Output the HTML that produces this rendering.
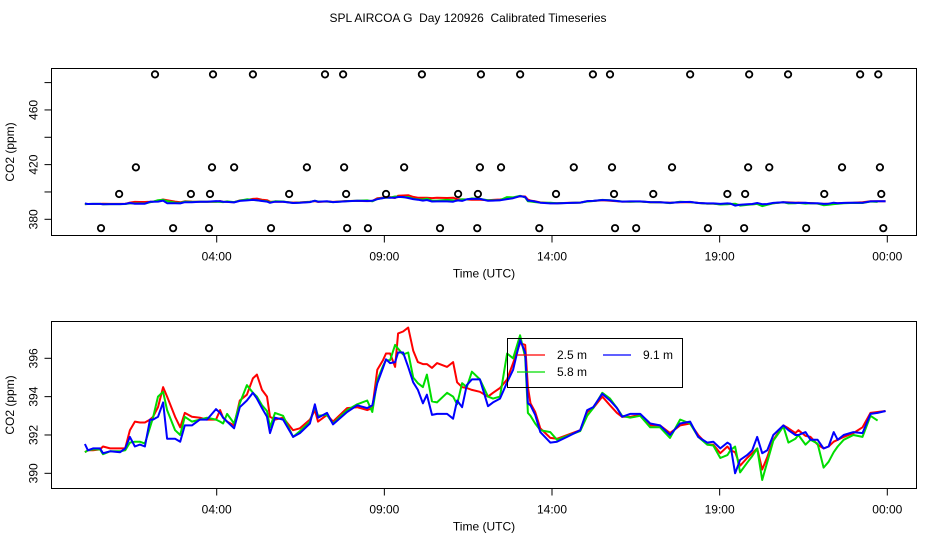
<!DOCTYPE html>
<html><head><meta charset="utf-8">
<style>
html,body{margin:0;padding:0;background:#fff;}
svg{display:block;font-family:"Liberation Sans",Arial,sans-serif;}
</style></head>
<body>
<svg id="chart" width="936" height="540" viewBox="0 0 936 540">
<text x="468" y="22" text-anchor="middle" font-size="12" style="white-space:pre">SPL AIRCOA G  Day 120926  Calibrated Timeseries</text>
<g id="topPanel"></g>
<g id="botPanel"></g>
</svg>
<script>
const hours = [0.07,0.16,0.31,0.52,0.61,0.82,1.12,1.27,1.41,1.56,1.71,1.86,2.01,2.10,2.25,2.40,2.52,2.76,2.91,3.05,3.26,3.50,3.71,3.98,4.10,4.19,4.31,4.52,4.69,4.90,5.08,5.20,5.35,5.50,5.59,5.74,5.98,6.28,6.48,6.78,6.93,7.02,7.29,7.47,7.89,8.19,8.49,8.64,8.79,8.96,9.05,9.17,9.32,9.41,9.56,9.71,9.86,10.00,10.15,10.27,10.42,10.57,10.87,11.05,11.17,11.32,11.46,11.61,11.85,12.09,12.24,12.45,12.66,12.84,13.05,13.20,13.28,13.36,13.50,13.65,13.95,14.15,14.45,14.84,15.05,15.23,15.50,15.73,15.94,16.09,16.33,16.63,16.93,17.22,17.52,17.82,18.12,18.36,18.63,18.81,19.02,19.23,19.32,19.46,19.61,19.82,19.97,20.12,20.27,20.42,20.60,20.90,21.05,21.26,21.35,21.56,21.71,21.92,22.10,22.25,22.40,22.52,22.70,22.99,23.26,23.50,23.71,23.95];
const blue = [391.53,391.2,391.3,391.3,391.05,391.15,391.1,391.3,391.9,391.4,391.5,391.4,392.8,392.8,392.95,393.7,391.8,391.8,391.65,392.5,392.5,392.8,392.8,393.35,393.15,392.9,392.7,392.35,393.45,393.8,394.2,393.9,393.4,392.95,392.1,392.9,392.8,391.9,392.1,392.6,393.6,392.9,393.15,392.55,393.2,393.55,393.4,393.55,394.7,395.5,395.95,395.75,395.8,396.3,396.3,395.55,394.75,394.35,393.65,394.1,393.05,393.1,393.1,392.85,393.8,393.45,394.6,394.9,394.9,393.5,393.7,393.9,394.75,395.4,396.95,396.3,393.65,393.55,393.05,392.15,391.6,391.65,391.9,392.25,393.3,393.45,394.15,393.8,393.4,392.95,393.1,393.1,392.6,392.5,392.0,392.6,392.7,391.9,391.6,391.65,391.3,391.6,391.5,390.0,390.7,390.95,391.2,391.9,391.05,391.2,392.0,392.5,392.25,392.0,392.0,392.15,391.75,391.75,391.3,391.4,392.15,391.75,392.0,392.15,392.1,393.1,393.15,393.25];
const red = [391.1,391.2,391.2,391.25,391.4,391.3,391.3,391.3,392.25,392.7,392.65,392.65,392.8,392.95,393.45,394.5,394.0,392.95,392.4,393.15,392.95,392.9,392.8,392.8,393.3,392.9,392.7,392.5,393.8,394.1,394.95,395.15,394.35,394.0,392.95,392.8,392.9,392.25,392.35,392.8,393.3,392.7,393.05,392.7,393.4,393.45,393.3,393.4,395.4,395.9,396.25,396.25,395.55,397.3,397.4,397.6,396.4,395.8,395.7,395.7,395.5,395.75,395.55,395.8,394.75,394.5,394.45,394.35,394.25,394.0,394.2,394.45,394.9,395.75,396.8,396.7,394.5,393.65,393.2,392.35,391.85,391.8,392.0,392.25,393.2,393.4,394.0,393.55,393.15,392.95,392.95,393.05,392.5,392.5,392.1,392.5,392.6,392.0,391.5,391.5,391.05,391.4,391.2,391.1,390.4,390.8,391.05,391.3,390.2,390.85,391.75,392.5,392.35,392.1,392.25,391.95,391.9,391.5,391.3,391.4,391.65,391.75,391.9,392.1,392.4,393.15,393.2,393.25];
const green = [391.1,391.2,391.25,391.25,391.0,391.15,391.15,391.2,391.6,391.65,391.65,391.55,392.4,392.9,394.0,394.25,393.3,392.25,392.0,392.95,392.7,392.8,392.9,392.8,392.7,392.6,393.1,392.6,393.65,394.6,394.2,394.0,393.55,393.25,392.4,393.15,393.0,391.9,392.2,392.7,393.5,393.0,393.05,392.6,393.3,393.6,393.8,393.2,394.85,395.6,395.9,395.9,396.7,396.5,396.2,396.3,395.0,394.7,394.5,395.15,393.75,393.7,394.2,394.0,393.6,394.7,394.5,395.3,394.9,394.0,393.9,394.0,396.25,396.0,397.2,396.05,393.15,393.0,392.6,392.25,392.15,391.75,391.95,392.2,393.0,393.4,394.2,393.9,393.4,393.0,392.9,393.0,392.4,392.4,391.85,392.8,392.6,391.9,391.5,391.45,390.8,390.95,391.2,391.4,390.05,390.55,390.9,391.3,389.65,390.6,391.7,392.45,391.6,391.8,392.0,391.5,391.75,391.55,390.3,390.6,391.1,391.4,391.75,392.0,391.9,393.0,392.75,null];
const flagHours = [2.16,3.89,5.08,7.23,7.77,10.12,11.88,13.05,15.22,15.73,18.12,19.88,21.04,23.19,23.73,
 1.59,3.86,4.52,6.69,7.80,9.59,11.85,12.48,14.65,15.79,17.58,19.85,20.48,22.65,23.78,
 1.09,3.23,3.80,6.16,7.86,9.05,11.20,11.79,14.12,15.85,17.02,19.23,19.76,22.12,23.82,
 0.55,2.70,3.77,5.62,7.89,8.51,10.66,11.77,13.62,15.88,16.51,18.65,19.73,21.58,23.88];
const flagValues = [486,486,486,486,486,486,486,486,486,486,486,486,486,486,486,
 418,418,418,418,418,418,418,418,418,418,418,418,418,418,418,
 398.5,398.5,398.5,398.5,398.5,398.5,398.5,398.5,398.5,398.5,398.5,398.5,398.5,398.5,398.5,
 373.5,373.5,373.5,373.5,373.5,373.5,373.5,373.5,373.5,373.5,373.5,373.5,373.5,373.5,373.5];
const xTickHours = [4,9,14,19,24];
const xTickLabels = ["04:00","09:00","14:00","19:00","00:00"];
const topYTicks = [380,400,420,440,460,480];
const topYLabels = ["380","","420","","460",""];
const botYTicks = [390,392,394,396];
const botYLabels = ["390","392","394","396"];

const NS="http://www.w3.org/2000/svg";
function mk(parent,tag,attrs){const e=document.createElementNS(NS,tag);for(const k in attrs)e.setAttribute(k,attrs[k]);parent.appendChild(e);return e;}
const xScale = h => 216.7 + (h-4)*33.53;
const GREEN = '#00dd00';

function panel(g, box, yScale, yTicks, yLabels, withFlags){
  const r=mk(g,'rect',{x:box.x,y:box.y,width:box.w,height:box.h,fill:'none',stroke:'#000','stroke-width':1});
  
  
  const yb=box.y+box.h;
  mk(g,'line',{x1:xScale(xTickHours[0]),x2:xScale(xTickHours[xTickHours.length-1]),y1:yb,y2:yb,stroke:'#000'});
  xTickHours.forEach((h,i)=>{
    const x=xScale(h);
    mk(g,'line',{x1:x,x2:x,y1:yb,y2:yb+7,stroke:'#000'});
    const t=mk(g,'text',{x:x,y:yb+25,'text-anchor':'middle','font-size':12});
    t.textContent=xTickLabels[i];
    
    
  });
  const xt=mk(g,'text',{x:484,y:yb+42,'text-anchor':'middle','font-size':12});
  xt.textContent='Time (UTC)';
  
  
  const ys=yTicks.map(yScale);
  mk(g,'line',{x1:box.x,x2:box.x,y1:Math.min(...ys),y2:Math.max(...ys),stroke:'#000'});
  yTicks.forEach((v,i)=>{
    const y=yScale(v);
    mk(g,'line',{x1:box.x-7,x2:box.x,y1:y,y2:y,stroke:'#000'});
    if(yLabels[i]){
      const t=mk(g,'text',{x:0,y:0,'text-anchor':'middle','font-size':12,transform:`translate(${box.x-14},${y}) rotate(-90)`});
      t.textContent=yLabels[i];
      
      
    }
  });
  const yt=mk(g,'text',{x:0,y:0,'text-anchor':'middle','font-size':12,transform:`translate(14,${box.y+box.h/2}) rotate(-90)`});
  yt.textContent='CO2 (ppm)';
  
  
  const series=[[red,'#f00','series-2-5m'],[green,GREEN,'series-5-8m'],[blue,'#00f','series-9-1m']];
  series.forEach(([vals,col,name])=>{
    let d='';let pen=false;
    vals.forEach((v,i)=>{ if(v==null||hours[i]==null){pen=false;return;} d+=(pen?'L':'M')+xScale(hours[i]).toFixed(1)+','+yScale(v).toFixed(1); pen=true;});
    const p=mk(g,'path',{d:d,fill:'none',stroke:col,'stroke-width':2,'stroke-linejoin':'round'});
    
    
  });
  if(withFlags){
    flagHours.forEach((h,i)=>{
      const c=mk(g,'circle',{cx:xScale(h),cy:yScale(flagValues[i]),r:3.2,fill:'none',stroke:'#000','stroke-width':1.8});
      
      
    });
  }
}
const topG=document.getElementById('topPanel'), botG=document.getElementById('botPanel');
panel(topG,{x:51.5,y:68.5,w:865,h:167}, v=>219.3-(v-380)*1.367, topYTicks, topYLabels, true);
panel(botG,{x:51.5,y:321.5,w:865,h:167}, v=>358.3-(v-396)*19.17, botYTicks, botYLabels, false);

const lg=mk(botG,'g',{});


mk(lg,'rect',{x:507.5,y:338.5,width:175,height:49,fill:'none',stroke:'#000'});
const entries=[['2.5 m','#f00',0,355,'legend-entry-2-5m'],['5.8 m',GREEN,0,372,'legend-entry-5-8m'],['9.1 m','#00f',1,355,'legend-entry-9-1m']];
entries.forEach(([lab,col,colIdx,y,name])=>{
  const x0=colIdx?603:517;
  const e=mk(lg,'g',{});
  
  
  mk(e,'line',{x1:x0,x2:x0+28,y1:y,y2:y,stroke:col,'stroke-width':1.2});
  const t=mk(e,'text',{x:x0+40,y:y+4,'font-size':12});
  t.textContent=lab;
});
</script>
</body></html>
